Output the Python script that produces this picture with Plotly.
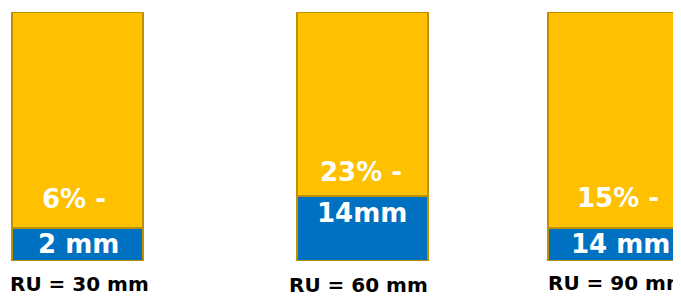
import plotly.graph_objects as go

# ---- data ----
categories = ["RU = 30 mm", "RU = 60 mm", "RU = 90 mm"]
blue_share = [13.3, 26.1, 13.3]      # height of blue (bottom) segment, % of bar
gold_share = [86.7, 73.9, 86.7]      # height of gold (top) segment, % of bar
pct_labels = ["6% -", "23% -", "15% -"]
mm_labels = ["2 mm", "14mm", "14 mm"]

# ---- styles ----
GOLD = "#FFC000"
BLUE = "#0070C0"
EDGE = "#BF9000"
FONT = "DejaVu Sans"

bar_width = 0.4884
bar_offset = [-0.2651, -0.2024, -0.2651]
pct_xshift = [-9, 10, -2]
pct_yshift = [29, 24, 30]
mm_xshift = [-5, 11, 1]
mm_yshift = [-16, -17, -16]
cat_xshift = [-4, 7, -2]
cat_yshift = [-9, -10, -8]

fig = go.Figure()
fig.add_trace(go.Bar(
    x=categories, y=blue_share, marker=dict(color=BLUE, line=dict(color=EDGE, width=2)),
    width=[bar_width] * 3, offset=bar_offset, hoverinfo="skip",
))
fig.add_trace(go.Bar(
    x=categories, y=gold_share, marker=dict(color=GOLD, line=dict(color=EDGE, width=2)),
    width=[bar_width] * 3, offset=bar_offset, hoverinfo="skip",
))

annotations = []
for i, c in enumerate(categories):
    annotations.append(dict(
        x=c, y=blue_share[i], text=pct_labels[i], showarrow=False,
        xanchor="center", yanchor="middle", xshift=pct_xshift[i], yshift=pct_yshift[i],
        font=dict(family=FONT, size=26, color="white", weight=700),
    ))
    annotations.append(dict(
        x=c, y=blue_share[i], text=mm_labels[i], showarrow=False,
        xanchor="center", yanchor="middle", xshift=mm_xshift[i], yshift=mm_yshift[i],
        font=dict(family=FONT, size=26, color="white", weight=700),
    ))
    annotations.append(dict(
        x=c, y=0, text=c, showarrow=False,
        xanchor="center", yanchor="top", xshift=cat_xshift[i], yshift=cat_yshift[i],
        font=dict(family=FONT, size=20, color="black", weight=700),
    ))

fig.update_layout(
    barmode="stack",
    width=681, height=296,
    margin=dict(l=0, r=0, t=4, b=43),
    paper_bgcolor="white", plot_bgcolor="white",
    showlegend=False,
    xaxis=dict(type="category", range=[-0.2799, 2.2588], showticklabels=False,
               showgrid=False, zeroline=False, showline=False, ticks=""),
    yaxis=dict(range=[0, 100], visible=False),
    annotations=annotations,
)

fig.write_html("out.html")
